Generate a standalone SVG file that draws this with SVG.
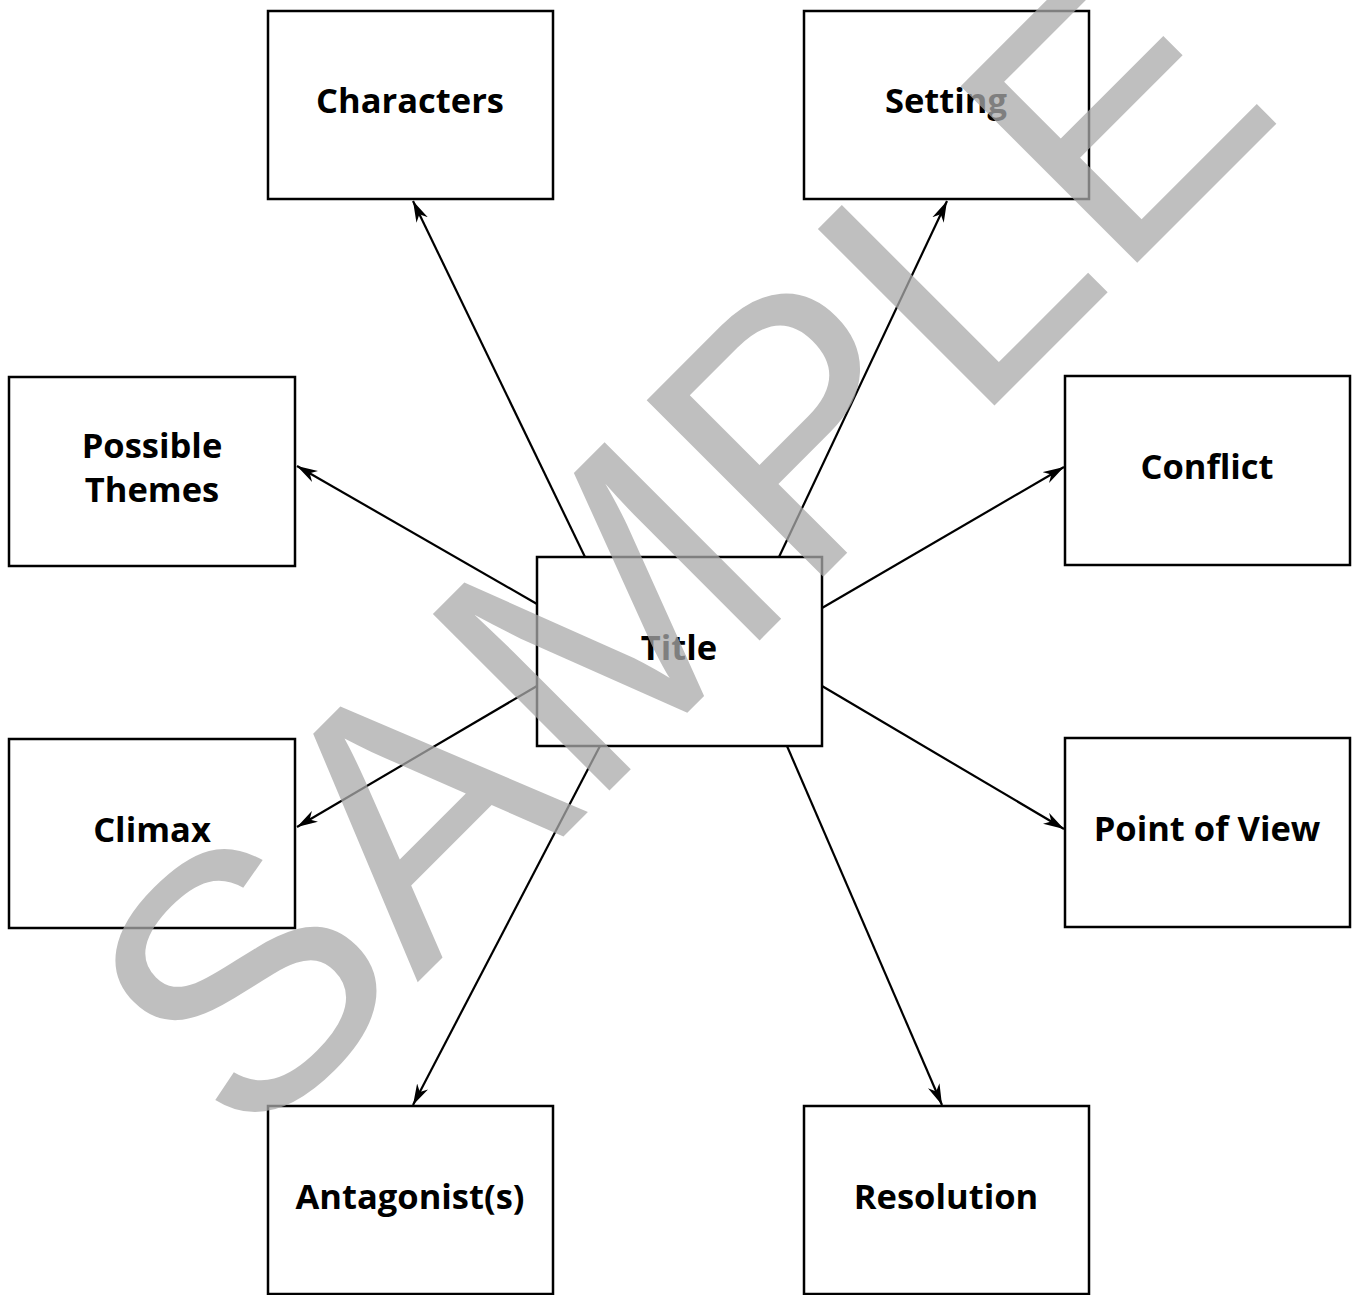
<svg xmlns="http://www.w3.org/2000/svg" width="1353" height="1295" viewBox="0 0 1353 1295">
<style>
.box{fill:#fff;stroke:#000;stroke-width:2.5}
.lbl{font-family:"Open Sans","Noto Sans","DejaVu Sans",sans-serif;font-weight:700;font-size:34.5px;fill:#000;text-anchor:middle}
.con{stroke:#000;stroke-width:2.2;fill:none;marker-end:url(#ah)}
.wm{font-family:"Liberation Sans",Arial,sans-serif;font-size:363px;fill:#aaaaaa;opacity:0.75}
</style>
<defs>
<marker id="ah" viewBox="0 0 20 12" refX="20" refY="6" markerWidth="21" markerHeight="13" markerUnits="userSpaceOnUse" orient="auto">
<path d="M0,0 L20,6 L0,12 L6,6 Z" fill="#000"/>
</marker>
</defs>
<rect width="1353" height="1295" fill="#fff"/>
<g id="connectors">
<line class="con" x1="585" y1="557" x2="413" y2="201"/>
<line class="con" x1="779" y1="557" x2="947" y2="201"/>
<line class="con" x1="537" y1="604" x2="297" y2="466"/>
<line class="con" x1="822" y1="608" x2="1064" y2="467"/>
<line class="con" x1="537" y1="686" x2="297" y2="827"/>
<line class="con" x1="822" y1="686" x2="1064" y2="829"/>
<line class="con" x1="600" y1="746" x2="413" y2="1105"/>
<line class="con" x1="787" y1="746" x2="942" y2="1105"/>
</g>
<g id="node-characters"><rect class="box" x="268" y="11" width="285" height="188"/><text class="lbl" x="410" y="113">Characters</text></g>
<g id="node-setting"><rect class="box" x="804" y="11" width="285" height="188"/><text class="lbl" x="946" y="113">Setting</text></g>
<g id="node-themes"><rect class="box" x="9" y="377" width="286" height="189"/><text class="lbl" x="152" y="458">Possible</text><text class="lbl" x="152" y="502">Themes</text></g>
<g id="node-conflict"><rect class="box" x="1065" y="376" width="285" height="189"/><text class="lbl" x="1207" y="479">Conflict</text></g>
<g id="node-title"><rect class="box" x="537" y="557" width="285" height="189"/><text class="lbl" x="679" y="660">Title</text></g>
<g id="node-climax"><rect class="box" x="9" y="739" width="286" height="189"/><text class="lbl" x="152" y="842">Climax</text></g>
<g id="node-pov"><rect class="box" x="1065" y="738" width="285" height="189"/><text class="lbl" x="1207" y="841">Point of View</text></g>
<g id="node-antagonist"><rect class="box" x="268" y="1106" width="285" height="188"/><text class="lbl" x="410" y="1209">Antagonist(s)</text></g>
<g id="node-resolution"><rect class="box" x="804" y="1106" width="285" height="188"/><text class="lbl" x="946" y="1209">Resolution</text></g>
<text class="wm" x="246" y="1154" transform="rotate(-45 246 1154)">SAMPLE</text>
</svg>
